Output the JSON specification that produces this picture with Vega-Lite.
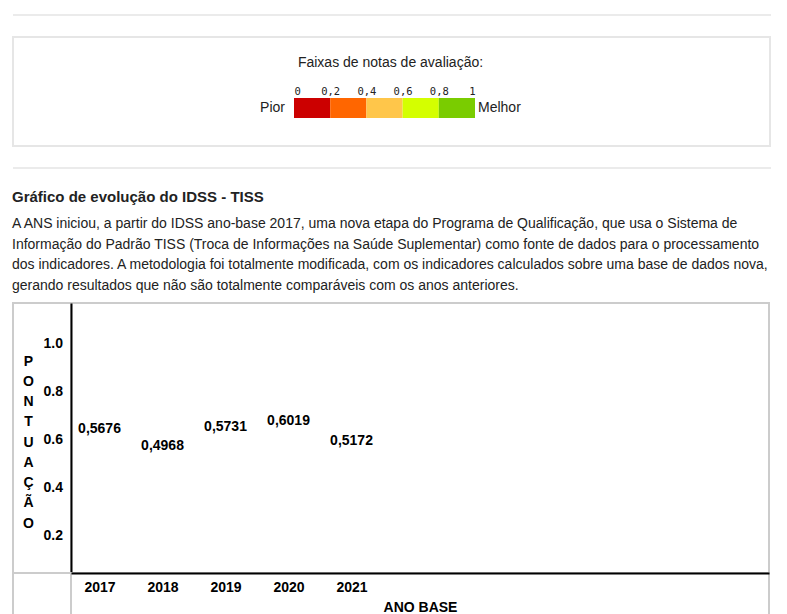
{
  "$schema": "https://vega.github.io/schema/vega-lite/v6.json",
  "background": "white",
  "padding": {"left": 12, "top": 14, "right": 0, "bottom": 0},
  "spacing": 20,
  "config": {"font": "Liberation Sans"},
  "vconcat": [
    {
      "width": 758,
      "height": 2,
      "view": {"fill": "#ebebeb", "stroke": null},
      "data": {"values": []},
      "mark": "rect",
      "encoding": {}
    },
    {
      "width": 757,
      "height": 109,
      "view": {"stroke": "#e6e6e6", "strokeWidth": 2},
      "layer": [
        {
          "data": {
            "values": [
              {"de": 0.0, "ate": 0.2, "faixa": "0 a 0,2"},
              {"de": 0.2, "ate": 0.4, "faixa": "0,2 a 0,4"},
              {"de": 0.4, "ate": 0.6, "faixa": "0,4 a 0,6"},
              {"de": 0.6, "ate": 0.8, "faixa": "0,6 a 0,8"},
              {"de": 0.8, "ate": 1.0, "faixa": "0,8 a 1"}
            ]
          },
          "mark": {"type": "rect"},
          "encoding": {
            "x": {
              "field": "de", "type": "quantitative",
              "scale": {"domain": [0, 1], "range": [281, 462], "nice": false, "zero": false},
              "axis": {
                "orient": "top", "offset": -60, "values": [0, 0.2, 0.4, 0.6, 0.8, 1],
                "labelExpr": "replace(format(datum.value, '.1~f'), '.', ',')",
                "labelFont": "DejaVu Sans Mono", "labelFontSize": 10.5, "labelColor": "#222",
                "labelBaseline": "alphabetic", "labelPadding": 3, "labelFlush": true,
                "domain": false, "ticks": false, "tickSize": 0, "grid": false,
                "title": "Faixas de notas de avaliação:",
                "titleFontSize": 14, "titleFontWeight": "normal", "titleColor": "#222",
                "titleX": 377, "titleY": -31, "titleAlign": "center", "titleBaseline": "alphabetic"
              }
            },
            "x2": {"field": "ate"},
            "y": {"datum": 0, "type": "quantitative", "scale": {"domain": [0, 1], "range": [81, 61]}, "axis": null},
            "y2": {"datum": 1},
            "color": {
              "field": "faixa", "type": "nominal", "legend": null,
              "scale": {
                "domain": ["0 a 0,2", "0,2 a 0,4", "0,4 a 0,6", "0,6 a 0,8", "0,8 a 1"],
                "range": ["#cc0000", "#ff6600", "#ffc64a", "#d4ff00", "#7acc00"]
              }
            }
          }
        },
        {
          "data": {"values": [{"rotulo": "Pior", "limite": 0}]},
          "mark": {"type": "text", "align": "right", "baseline": "middle", "dx": -9, "fontSize": 14, "fontWeight": "normal", "color": "#222"},
          "encoding": {
            "x": {"field": "limite", "type": "quantitative"},
            "y": {"datum": 0.5, "type": "quantitative"},
            "text": {"field": "rotulo"}
          }
        },
        {
          "data": {"values": [{"rotulo": "Melhor", "limite": 1}]},
          "mark": {"type": "text", "align": "left", "baseline": "middle", "dx": 3, "fontSize": 14, "fontWeight": "normal", "color": "#222"},
          "encoding": {
            "x": {"field": "limite", "type": "quantitative"},
            "y": {"datum": 0.5, "type": "quantitative"},
            "text": {"field": "rotulo"}
          }
        }
      ]
    },
    {
      "width": 758,
      "height": 2,
      "view": {"fill": "#ebebeb", "stroke": null},
      "data": {"values": []},
      "mark": "rect",
      "encoding": {}
    },
    {
      "title": {
        "text": "Gráfico de evolução do IDSS - TISS",
        "subtitle": [
          "A ANS iniciou, a partir do IDSS ano-base 2017, uma nova etapa do Programa de Qualificação, que usa o Sistema de",
          "Informação do Padrão TISS (Troca de Informações na Saúde Suplementar) como fonte de dados para o processamento",
          "dos indicadores. A metodologia foi totalmente modificada, com os indicadores calculados sobre uma base de dados nova,",
          "gerando resultados que não são totalmente comparáveis com os anos anteriores."
        ],
        "anchor": "start",
        "frame": "group",
        "dx": -1,
        "dy": -3,
        "fontSize": 15,
        "fontWeight": "bold",
        "color": "#222",
        "subtitleFontSize": 14,
        "subtitleColor": "#222",
        "subtitleLineHeight": 20.67,
        "subtitlePadding": 12,
        "offset": 6
      },
      "columns": 2,
      "spacing": 0,
      "bounds": "flush",
      "concat": [
        {
          "width": 58,
          "height": 270,
          "view": {"stroke": "#cccccc", "strokeWidth": 2},
          "data": {"values": []},
          "mark": "rect",
          "encoding": {}
        },
        {
          "width": 698,
          "height": 270,
          "view": {"stroke": "#cccccc", "strokeWidth": 2},
          "data": {
            "values": [
              {"ano": 2017, "nota": 0.5676, "rotulo": "0,5676"},
              {"ano": 2018, "nota": 0.4968, "rotulo": "0,4968"},
              {"ano": 2019, "nota": 0.5731, "rotulo": "0,5731"},
              {"ano": 2020, "nota": 0.6019, "rotulo": "0,6019"},
              {"ano": 2021, "nota": 0.5172, "rotulo": "0,5172"}
            ]
          },
          "mark": {"type": "text", "fontSize": 14, "fontWeight": "bold", "color": "black", "baseline": "middle", "align": "center", "dy": -19},
          "encoding": {
            "x": {
              "field": "ano", "type": "quantitative",
              "scale": {"domain": [2016.5476, 2027.627], "nice": false, "zero": false},
              "axis": null
            },
            "y": {
              "field": "nota", "type": "quantitative",
              "scale": {"domain": [0.04583, 1.17083], "nice": false, "zero": false},
              "axis": {
                "orient": "left", "values": [0.2, 0.4, 0.6, 0.8, 1.0], "format": ".1f",
                "domain": true, "domainColor": "black", "domainWidth": 2,
                "ticks": false, "tickSize": 0, "grid": false,
                "labelFontSize": 14, "labelFontWeight": "bold", "labelColor": "black",
                "labelAlign": "left", "labelBaseline": "middle", "labelPadding": 28,
                "title": ["P", "O", "N", "T", "U", "A", "Ç", "Ã", "O"],
                "titleAngle": 0, "titleAlign": "center", "titleBaseline": "middle",
                "titleX": -43, "titleY": 58, "titleLineHeight": 20.25,
                "titleFontSize": 14, "titleFontWeight": "bold", "titleColor": "black"
              }
            },
            "text": {"field": "rotulo"}
          }
        },
        {
          "width": 58,
          "height": 60,
          "view": {"stroke": "#cccccc", "strokeWidth": 2},
          "data": {"values": []},
          "mark": "rect",
          "encoding": {}
        },
        {
          "width": 698,
          "height": 60,
          "view": {"stroke": "#cccccc", "strokeWidth": 2},
          "data": {"values": []},
          "mark": "rect",
          "encoding": {
            "x": {
              "field": "ano", "type": "quantitative",
              "scale": {"domain": [2016.5476, 2027.627], "nice": false, "zero": false},
              "axis": {
                "orient": "top", "values": [2017, 2018, 2019, 2020, 2021], "format": "d",
                "domain": true, "domainColor": "black", "domainWidth": 2,
                "ticks": false, "tickSize": 0, "grid": false,
                "labelFontSize": 14, "labelFontWeight": "bold", "labelColor": "black",
                "labelBaseline": "top", "labelPadding": -7,
                "title": "ANO BASE", "titleFontSize": 14, "titleFontWeight": "bold", "titleColor": "black",
                "titleX": 349, "titleY": 34, "titleAlign": "center", "titleBaseline": "middle"
              }
            }
          }
        }
      ]
    }
  ]
}
